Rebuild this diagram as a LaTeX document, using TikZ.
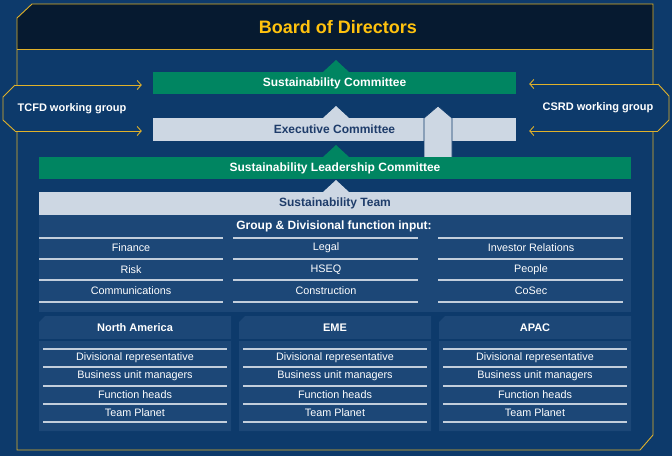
\documentclass[tikz,border=0pt]{standalone}
\usepackage{fontspec}
\setmainfont{Liberation Sans}
\usetikzlibrary{arrows.meta}

\definecolor{bgblue}{HTML}{0D3A6B}
\definecolor{panelblue}{HTML}{1C4777}
\definecolor{headdark}{HTML}{061A30}
\definecolor{goldline}{HTML}{E0B12A}
\definecolor{goldtext}{HTML}{FFC20E}
\definecolor{sgreen}{HTML}{008561}
\definecolor{slight}{HTML}{CDD7E3}
\definecolor{navytext}{HTML}{1E3C6A}
\definecolor{rowline}{HTML}{C2CEDC}

\tikzset{
  gold/.style={draw=goldline, line width=0.9pt},
  goldarr/.style={gold, -{Straight Barb[length=4pt,width=9pt]}},
  greenbar/.style={fill=sgreen, text=white, inner sep=0pt, font=\bfseries\fontsize{12}{14}\selectfont},
  lightbar/.style={fill=slight, text=navytext, inner sep=0pt, font=\bfseries\fontsize{12}{14}\selectfont},
  head/.style={text=white, font=\bfseries\fontsize{11}{13}\selectfont},
  item/.style={text=white, font=\fontsize{10.8}{13}\selectfont},
  rows/.style={draw=rowline, line width=1.3pt},
}

\begin{document}
\begin{tikzpicture}[x=1pt,y=-1pt]
\useasboundingbox (0,0) rectangle (672,456);
\fill[bgblue] (0,0) rectangle (672,456);

% board
\fill[headdark] (17,18) -- (32,4) -- (653,4) -- (653,49) -- (17,49) -- cycle;
\node[text=goldtext, font=\bfseries\fontsize{18}{21}\selectfont] (board) at (338,27) {Board of Directors};

\coordinate (tcfdtop) at (15,85);
\coordinate (tcfdbot) at (15,131);
\coordinate (csrdtop) at (658,84);
\coordinate (csrdbot) at (658,131);

\draw[gold] (17,49) -- (653,49);
\draw[gold] (653,84) -- (653,4) -- (32,4) -- (17,18) -- (17,85);
\draw[gold] (17,131) -- (17,450) -- (640,450) -- (653,435) -- (653,131);
\draw[gold] (tcfdtop) -- (3,97) -- (3,120) -- (tcfdbot);
\draw[gold] (csrdtop) -- (669,96) -- (669,120) -- (csrdbot);

\node[text=white, font=\bfseries\fontsize{11}{13}\selectfont] (tcfd) at (72,109) {TCFD working group};
\node[text=white, font=\bfseries\fontsize{11}{13}\selectfont] (csrd) at (598,108) {CSRD working group};

% committees
\node[greenbar, minimum width=363pt, minimum height=22pt] (sc) at (334.5,83) {Sustainability Committee};
\fill[sgreen] (323,72) -- (336,60) -- (349,72) -- cycle;

\node[lightbar, minimum width=363pt, minimum height=23pt] (ec) at (334.5,129.5) {Executive Committee};
\fill[slight] (323,118) -- (336,106) -- (349,118) -- cycle;

\filldraw[fill=slight, draw=bgblue, line width=0.8pt] (424,157) -- (424,118) -- (438,106) -- (452,118) -- (452,157);

\node[greenbar, minimum width=592pt, minimum height=22pt] (slc) at (335,168) {Sustainability Leadership Committee};
\fill[sgreen] (323,157) -- (336,145) -- (349,157) -- cycle;

\node[lightbar, minimum width=592pt, minimum height=23pt] (st) at (335,203.5) {Sustainability Team};
\fill[slight] (323,192) -- (336,180) -- (349,192) -- cycle;

\draw[goldarr, shorten >=11pt] (tcfdtop) -- (sc.west |- tcfdtop);
\draw[goldarr, shorten >=11pt] (tcfdbot) -- (ec.west |- tcfdbot);
\draw[goldarr, shorten >=13pt] (csrdtop) -- (sc.east |- csrdtop);
\draw[goldarr, shorten >=13pt] (csrdbot) -- (ec.east |- csrdbot);

% function input
\fill[panelblue] (39,215) rectangle (631,312);
\node[head, font=\bfseries\fontsize{12}{14}\selectfont] (gdin) at (334,226) {Group \& Divisional function input:};

\draw[rows] (39,238) -- (223,238) (39,259) -- (223,259) (39,280) -- (223,280) (39,302) -- (223,302);
\draw[rows] (233,238) -- (418,238) (233,259) -- (418,259) (233,280) -- (418,280) (233,302) -- (418,302);
\draw[rows] (438,238) -- (623,238) (438,259) -- (623,259) (438,280) -- (623,280) (438,302) -- (623,302);

\node[item] (fin) at (131,248) {Finance};
\node[item] (risk) at (131,270) {Risk};
\node[item] (comm) at (131,291) {Communications};
\node[item] (legal) at (326,248) {Legal};
\node[item] (hseq) at (326,270) {HSEQ};
\node[item] (cons) at (326,291) {Construction};
\node[item] (inv) at (531,248) {Investor Relations};
\node[item] (ppl) at (531,270) {People};
\node[item] (cosec) at (531,291) {CoSec};

% regions
\fill[panelblue] (39,322) -- (45,316) -- (231,316) -- (231,431) -- (39,431) -- cycle;
\fill[panelblue] (239,322) -- (245,316) -- (431,316) -- (431,431) -- (239,431) -- cycle;
\fill[panelblue] (439,322) -- (445,316) -- (631,316) -- (631,431) -- (439,431) -- cycle;
\draw[bgblue, line width=2pt] (39,340) -- (231,340) (239,340) -- (431,340) (439,340) -- (631,340);

\draw[rows] (43,349) -- (227,349) (43,367) -- (227,367) (43,386) -- (227,386) (43,404) -- (227,404) (43,422) -- (227,422);
\draw[rows] (243,349) -- (427,349) (243,367) -- (427,367) (243,386) -- (427,386) (243,404) -- (427,404) (243,422) -- (427,422);
\draw[rows] (443,349) -- (627,349) (443,367) -- (627,367) (443,386) -- (627,386) (443,404) -- (627,404) (443,422) -- (627,422);

\node[head] (na) at (135,328) {North America};
\node[item] (narep) at (135,358) {Divisional representative};
\node[item] (nabu) at (135,376) {Business unit managers};
\node[item] (nafh) at (135,395) {Function heads};
\node[item] (natp) at (135,413) {Team Planet};

\node[head] (eme) at (335,328) {EME};
\node[item] (emerep) at (335,358) {Divisional representative};
\node[item] (emebu) at (335,376) {Business unit managers};
\node[item] (emefh) at (335,395) {Function heads};
\node[item] (emetp) at (335,413) {Team Planet};

\node[head] (apac) at (535,328) {APAC};
\node[item] (aprep) at (535,358) {Divisional representative};
\node[item] (apbu) at (535,376) {Business unit managers};
\node[item] (apfh) at (535,395) {Function heads};
\node[item] (aptp) at (535,413) {Team Planet};

\end{tikzpicture}
\end{document}
